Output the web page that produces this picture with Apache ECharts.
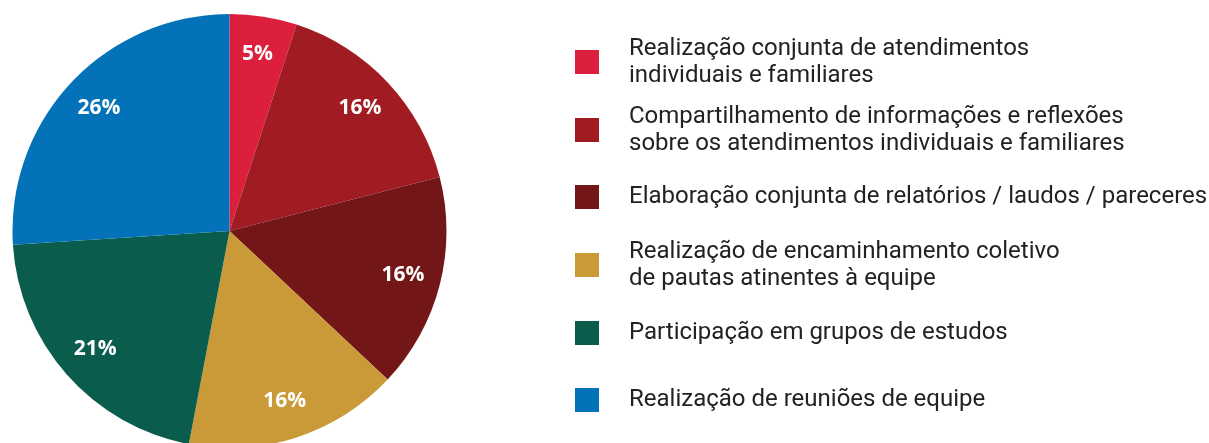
<!DOCTYPE html>
<html>
<head>
<meta charset="utf-8">
<script src="https://cdn.jsdelivr.net/npm/echarts@6/dist/echarts.min.js"></script>
<style>
html,body{margin:0;padding:0;background:#fff;}
#chart{width:1209px;height:443px;}
</style>
</head>
<body>
<div id="chart"></div>
<script>
const categories = [
  'Realização conjunta de atendimentos\nindividuais e familiares',
  'Compartilhamento de informações e reflexões\nsobre os atendimentos individuais e familiares',
  'Elaboração conjunta de relatórios / laudos / pareceres',
  'Realização de encaminhamento coletivo\nde pautas atinentes à equipe',
  'Participação em grupos de estudos',
  'Realização de reuniões de equipe'
];
const values = [5, 16, 16, 16, 21, 26];
const colors = ['#DC1F3C', '#A11C22', '#731618', '#C99A37', '#0A5C4D', '#0472B9'];
const legendTops = [35, 103, 183.5, 238, 319.5, 386.5];

const data = categories.map((c, i) => ({ name: c, value: values[i], itemStyle: { color: colors[i] } }));
const labelData = categories.map((c, i) => ({ name: c, value: values[i] }));

const chart = echarts.init(document.getElementById('chart'), null, { renderer: 'canvas' });

const legends = categories.map((c, i) => ({
  data: [c],
  orient: 'vertical',
  left: 575,
  top: legendTops[i],
  padding: 0,
  itemWidth: 24,
  itemHeight: 24,
  icon: 'rect',
  selectedMode: false,
  textStyle: {
    fontFamily: 'Roboto',
    fontSize: 24,
    lineHeight: 27,
    color: '#222222',
    padding: [0, 0, 0, 25]
  }
}));

chart.setOption({
  animation: false,
  backgroundColor: '#ffffff',
  legend: legends,
  series: [
    {
      type: 'pie',
      center: [229.5, 231],
      radius: [0, 217],
      startAngle: 90,
      clockwise: true,
      silent: true,
      label: { show: false },
      labelLine: { show: false },
      itemStyle: { borderWidth: 0 },
      data: data
    },
    {
      type: 'pie',
      center: [229.5, 231],
      radius: [135, 217],
      startAngle: 90,
      clockwise: true,
      silent: true,
      legendHoverLink: false,
      itemStyle: { color: 'rgba(0,0,0,0)', borderWidth: 0 },
      label: {
        show: true,
        position: 'inside',
        formatter: '{c}%',
        color: '#ffffff',
        fontFamily: 'Open Sans',
        fontWeight: 'bold',
        fontSize: 21
      },
      labelLine: { show: false },
      data: labelData
    }
  ]
});
</script>
</body>
</html>
